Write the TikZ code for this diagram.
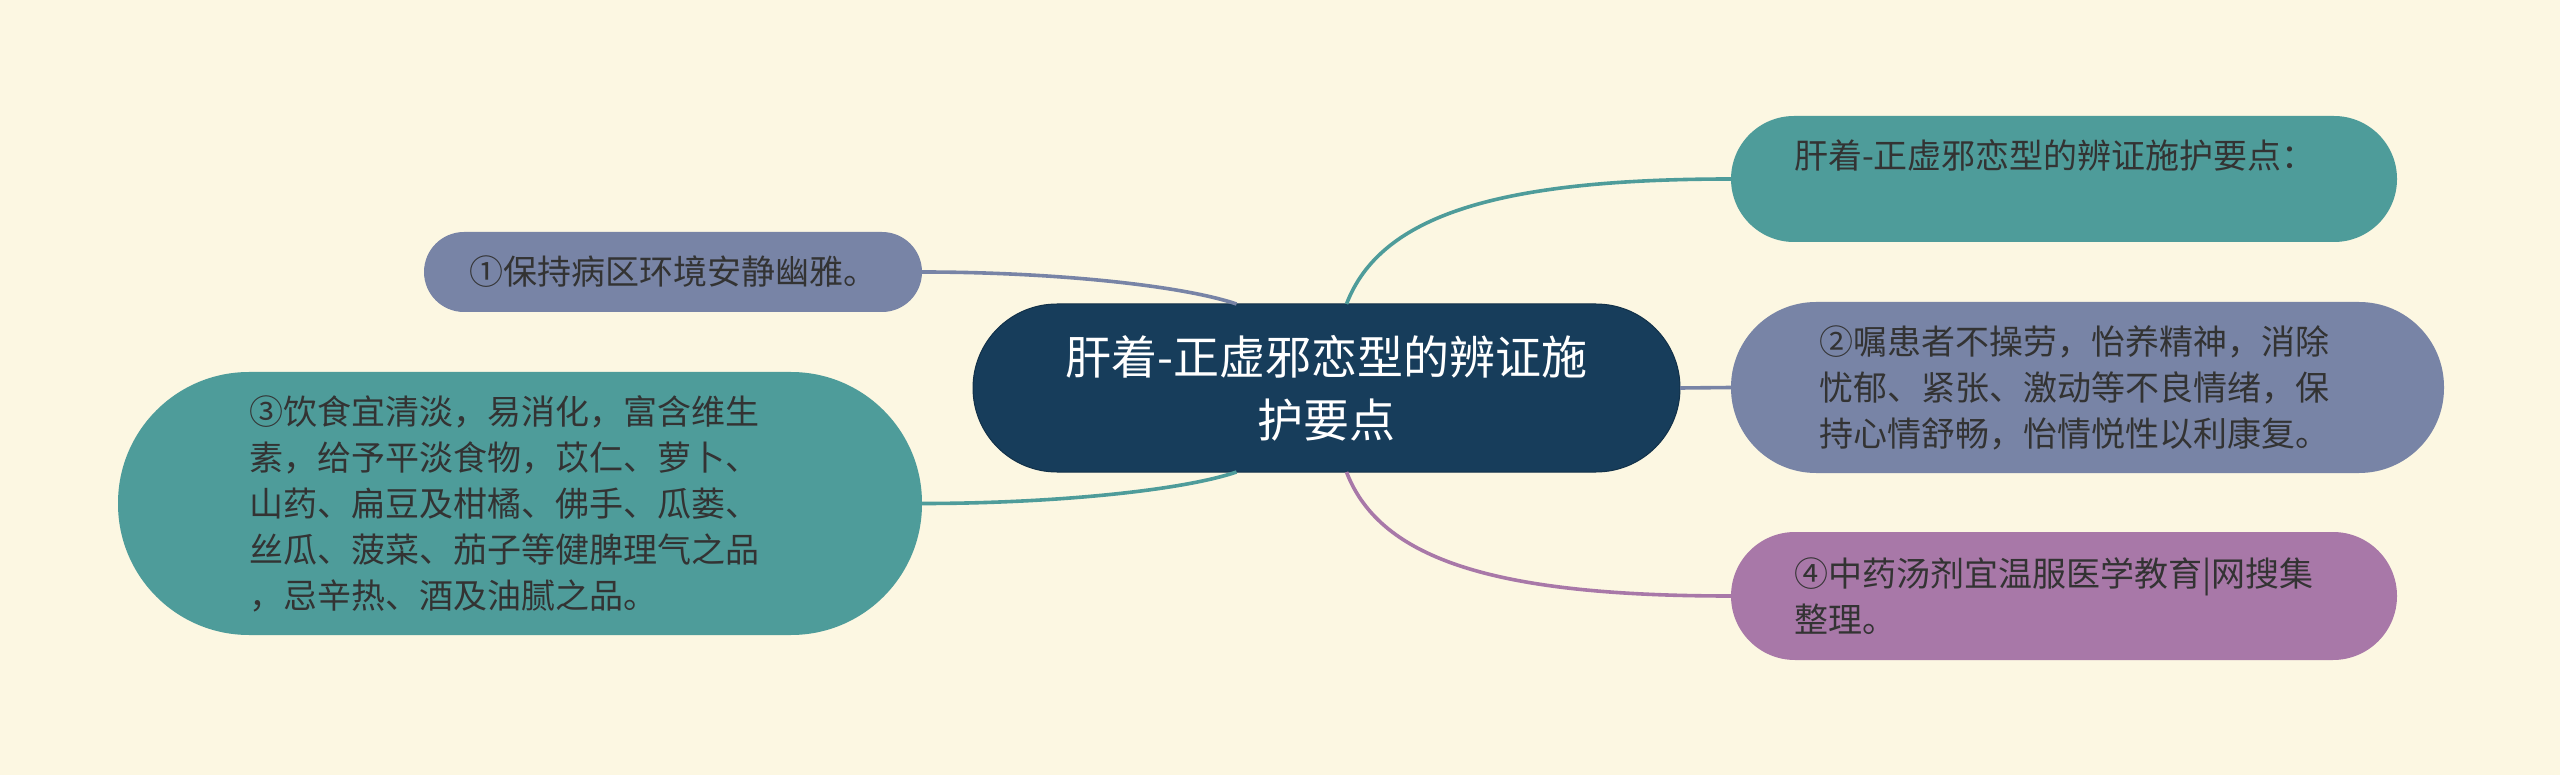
\documentclass[tikz,border=0pt]{standalone}
\usepackage{fontspec}
\setmainfont{Noto Sans CJK SC}
\definecolor{bgc}{HTML}{FCF7E2}
\definecolor{tealc}{HTML}{4E9C9A}
\definecolor{slatec}{HTML}{7884A6}
\definecolor{purplec}{HTML}{A878A8}
\definecolor{navyc}{HTML}{173D5B}
\definecolor{txtc}{HTML}{333333}
\tikzset{
  pill/.style={rectangle, rounded corners=#1, inner sep=0pt, outer sep=0pt},
  leaf/.style={text=txtc, font=\fontsize{34}{46}\selectfont},
  conn/.style={line width=3.6pt},
}
\begin{document}
\begin{tikzpicture}[x=1pt,y=-1pt]
\useasboundingbox[fill=bgc] (0,0) rectangle (2560,775);
% central
\node[pill=84, fill=navyc, draw=navyc!80!black, line width=1pt, minimum width=707pt, minimum height=168pt,
      text=white, font=\fontsize{46}{63}\selectfont, align=center, text width=640pt]
  (c) at (1326.5,388) {肝着-正虚邪恋型的辨证施\\护要点};
% left
\node[pill=40, fill=slatec, leaf, minimum width=498pt, minimum height=80pt, align=center]
  (n1) at (673,272) {①保持病区环境安静幽雅。};
\node[pill=131, fill=tealc, leaf, minimum width=804pt, minimum height=263pt, align=left, text width=542pt]
  (n3) at (520,503.5) {③饮食宜清淡，易消化，富含维生\\素，给予平淡食物，苡仁、萝卜、\\山药、扁豆及柑橘、佛手、瓜蒌、\\丝瓜、菠菜、茄子等健脾理气之品\\，忌辛热、酒及油腻之品。};
% right
\node[pill=63, fill=tealc, leaf, minimum width=666pt, minimum height=126pt, align=left, text width=540pt]
  (a) at (2064,179) {肝着-正虚邪恋型的辨证施护要点：\\[-10pt]\strut};
\node[pill=85, fill=slatec, leaf, minimum width=713pt, minimum height=171pt, align=left, text width=536pt]
  (b) at (2087.5,387.5) {②嘱患者不操劳，怡养精神，消除\\忧郁、紧张、激动等不良情绪，保\\持心情舒畅，怡情悦性以利康复。};
\node[pill=64, fill=purplec, leaf, minimum width=666pt, minimum height=128pt, align=left, text width=540pt]
  (d) at (2064,596) {④中药汤剂宜温服医学教育|网搜集\\整理。};
% connectors
\draw[conn, tealc] ([xshift=20pt]c.north) .. controls +(34,-89) and +(-232,0) .. (a.west);
\draw[conn, slatec] (c.east) -- (b.west);
\draw[conn, purplec] ([xshift=20pt]c.south) .. controls +(34,89) and +(-232,0) .. (d.west);
\draw[conn, slatec] ([xshift=-90pt]c.north) .. controls +(-56,-19) and +(128,0) .. (n1.east);
\draw[conn, tealc] ([xshift=-90pt]c.south) .. controls +(-56,19) and +(128,0) .. (n3.east);
\end{tikzpicture}
\end{document}
